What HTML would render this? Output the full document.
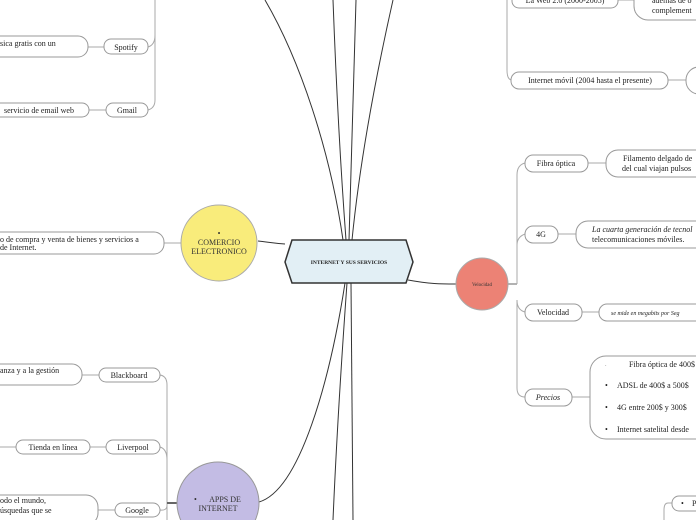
<!DOCTYPE html>
<html><head><meta charset="utf-8"><style>
html,body{margin:0;padding:0;background:#fff;}
svg{display:block;font-family:"Liberation Serif",serif;}
</style></head><body>
<svg width="696" height="520" viewBox="0 0 696 520" xmlns="http://www.w3.org/2000/svg">
<g fill="none" stroke="#333" stroke-width="1">
<!-- main connectors -->
<path d="M343 240 C330 150 300 60 265 0"/>
<path d="M346 240 C340 160 336 80 333 0"/>
<path d="M349 240 C352 160 354 80 356 0"/>
<path d="M352 240 C360 160 375 80 393 0"/>
<path d="M285 244 C272 243 268 242 258 241"/>
<path d="M408 280 C430 284 440 284 456 284"/>
<path d="M345 283 C330 380 300 490 259 502"/>
<path d="M347 283 C340 380 336 450 333 520"/>
<path d="M351 283 C352 380 353 450 353 520"/>
</g>
<g fill="none" stroke="#aaa" stroke-width="1">
<!-- left top trunk -->
<path d="M155 0 L155 35 Q155 45 148 47"/>
<path d="M155 30 L155 100 Q155 108 148 110"/>
<line x1="88" y1="47" x2="104" y2="47"/>
<line x1="89" y1="110" x2="106" y2="110"/>
<line x1="164" y1="243" x2="181" y2="243"/>
<!-- apps trunk -->
<path d="M167 520 L167 385 Q167 376 160 375"/>
<path d="M167 460 Q167 449 160 447"/>
<path d="M167 505 Q167 511 160 510"/>
<line x1="167" y1="503" x2="177" y2="503" stroke="#666" stroke-width="2"/>
<line x1="82" y1="375" x2="99" y2="375"/>
<line x1="90" y1="447" x2="106" y2="447"/>
<line x1="0" y1="447" x2="16" y2="447"/>
<line x1="98" y1="510" x2="115" y2="510"/>
<!-- right top trunk -->
<path d="M507 0 L507 70 Q507 80 512 80"/>
<line x1="618" y1="0" x2="634" y2="0"/>
<line x1="668" y1="80" x2="686" y2="80"/>
<!-- velocidad trunk -->
<line x1="508" y1="284" x2="517" y2="284" stroke="#666"/>
<path d="M517 284 L517 175 Q517 165 525 163"/>
<path d="M517 245 Q517 237 525 234"/>
<path d="M517 300 Q517 310 525 312"/>
<path d="M517 300 L517 388 Q517 397 525 397"/>
<line x1="588" y1="163" x2="606" y2="163"/>
<line x1="558" y1="234" x2="576" y2="234"/>
<line x1="582" y1="312" x2="599" y2="312"/>
<line x1="572" y1="397" x2="590" y2="397"/>
<path d="M672 503 L668 503 Q664 503 664 510 L664 520"/>
</g>
<!-- central -->
<polygon points="292,240 406,240 413,262 406,283 292,283 285,262" fill="#e2eff5" stroke="#333" stroke-width="1.5"/>
<text x="349" y="264" font-size="5.5" font-weight="bold" text-anchor="middle" fill="#222">INTERNET Y SUS SERVICIOS</text>
<!-- circles -->
<circle cx="219" cy="243" r="38" fill="#f9ec7b" stroke="#aaa"/>
<text x="219" y="236" font-size="8" text-anchor="middle" fill="#333">•</text>
<text x="219" y="245" font-size="8" text-anchor="middle" fill="#333">COMERCIO</text>
<text x="219" y="254" font-size="8" text-anchor="middle" fill="#333">ELECTRONICO</text>
<circle cx="218" cy="503" r="41" fill="#c3bce4" stroke="#999"/>
<text x="194" y="502" font-size="8" fill="#333">•</text>
<text x="225" y="502" font-size="8" text-anchor="middle" fill="#333">APPS DE</text>
<text x="218" y="511" font-size="8" text-anchor="middle" fill="#333">INTERNET</text>
<circle cx="482" cy="284" r="26" fill="#ec8275" stroke="#aaa"/>
<text x="482" y="286" font-size="5" text-anchor="middle" fill="#333">Velocidad</text>
<!-- pills & boxes -->
<g fill="#fff" stroke="#999" stroke-width="1">
<rect x="104" y="39" width="44" height="15" rx="7"/>
<rect x="-20" y="36" width="108" height="21" rx="10"/>
<rect x="106" y="103" width="42" height="14" rx="7"/>
<rect x="-20" y="103" width="109" height="14" rx="7"/>
<rect x="-20" y="232" width="184" height="22" rx="10"/>
<rect x="99" y="368" width="61" height="14" rx="7"/>
<rect x="-20" y="364" width="102" height="21" rx="10"/>
<rect x="106" y="440" width="54" height="14" rx="7"/>
<rect x="16" y="440" width="74" height="14" rx="7"/>
<rect x="115" y="503" width="45" height="14" rx="7"/>
<rect x="-20" y="495" width="118" height="30" rx="12"/>
<rect x="512" y="-8" width="106" height="16" rx="7"/>
<rect x="634" y="-20" width="80" height="40" rx="14"/>
<rect x="511" y="72" width="157" height="17" rx="8"/>
<rect x="686" y="67" width="40" height="27" rx="13"/>
<rect x="525" y="155" width="63" height="17" rx="8"/>
<rect x="606" y="150" width="110" height="27" rx="12"/>
<rect x="525" y="226" width="33" height="17" rx="8"/>
<rect x="576" y="221" width="140" height="27" rx="12"/>
<rect x="525" y="304" width="57" height="17" rx="8"/>
<rect x="599" y="304" width="117" height="17" rx="8"/>
<rect x="525" y="389" width="47" height="17" rx="8"/>
<rect x="590" y="356" width="126" height="83" rx="16"/>
<rect x="672" y="496" width="40" height="15" rx="7"/>
</g>
<g font-size="8" fill="#222">
<text x="126" y="50" text-anchor="middle">Spotify</text>
<text x="0" y="46">sica gratis con un</text>
<text x="127" y="113" text-anchor="middle">Gmail</text>
<text x="4" y="113">servicio de email web</text>
<text x="0" y="242">o de compra y venta de bienes y servicios a</text>
<text x="0" y="250">de Internet.</text>
<text x="129" y="378" text-anchor="middle">Blackboard</text>
<text x="0" y="373">anza y a la gestión</text>
<text x="133" y="450" text-anchor="middle">Liverpool</text>
<text x="53" y="450" text-anchor="middle">Tienda en línea</text>
<text x="137" y="513" text-anchor="middle">Google</text>
<text x="0" y="503">odo el mundo,</text>
<text x="0" y="513">úsquedas que se</text>
<text x="565" y="3" text-anchor="middle">La Web 2.0 (2000-2005)</text>
<text x="652" y="3">además de o</text>
<text x="652" y="13">complement</text>
<text x="590" y="83" text-anchor="middle">Internet móvil (2004 hasta el presente)</text>
<text x="556" y="166" text-anchor="middle">Fibra óptica</text>
<text x="623" y="161">Filamento delgado de</text>
<text x="622" y="171">del cual viajan pulsos</text>
<text x="541" y="237" text-anchor="middle">4G</text>
<text x="592" y="232" font-style="italic">La cuarta generación de tecnol</text>
<text x="592" y="242">telecomunicaciones móviles.</text>
<text x="553" y="315" text-anchor="middle">Velocidad</text>
<text x="611" y="315" font-size="6" font-style="italic">se mide en megabits por Seg</text>
<text x="548" y="400" text-anchor="middle" font-style="italic">Precios</text>
<text x="605" y="367" font-size="5">·</text>
<text x="629" y="367">Fibra óptica de 400$</text>
<text x="605" y="388">•</text><text x="617" y="388">ADSL de 400$ a 500$</text>
<text x="605" y="410">•</text><text x="617" y="410">4G entre 200$ y 300$</text>
<text x="605" y="432">•</text><text x="617" y="432">Internet satelital desde</text>
<text x="681" y="506">•</text><text x="692" y="506">P</text>
</g>
</svg>
</body></html>
